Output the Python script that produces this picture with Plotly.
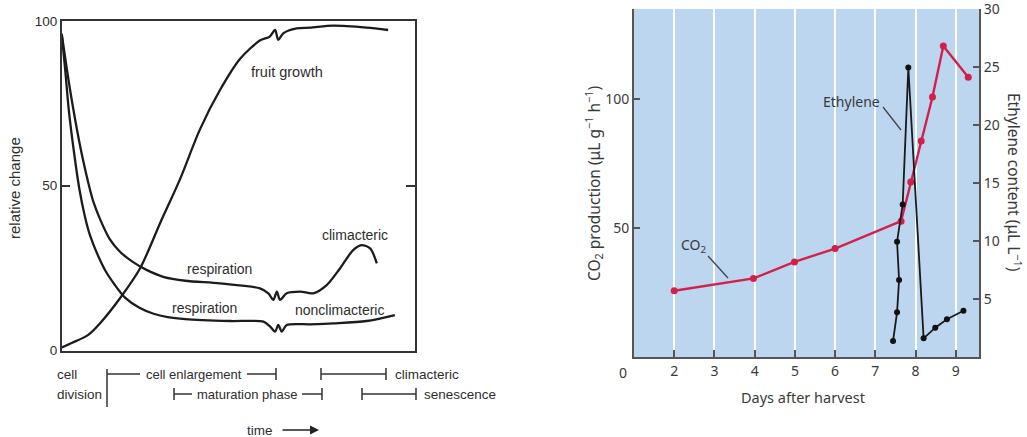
import plotly.graph_objects as go

W, H = 1027, 437

# ---------------- Left panel data (relative change vs time, 0-100 scale) ----------------
fruit_x = [0, 3, 7.5, 11, 16.5, 22.2, 28, 33.5, 39.1, 44.8, 50.5, 56.1, 58.9, 60.4, 61.3, 62.7, 66.5, 70.3, 76.9, 86.3, 92.4]
fruit_y = [1, 2.4, 4.8, 8.5, 15.9, 25, 39, 52, 67, 79, 88.5, 94, 95.2, 97.2, 94.2, 96.2, 97.7, 97.9, 98.5, 97.9, 97.2]

resp_clim_x = [0, 1.5, 3, 4.5, 6, 7.5, 9, 11, 13.5, 16.5, 20, 24, 29, 35, 44.8, 56.1, 58.5, 59.9, 60.9, 61.8, 63.7, 67.5, 71.2, 75, 78.8, 82.5, 84.9, 87.3, 89.2]
resp_clim_y = [96, 85, 75, 66, 58, 51, 45, 39.5, 34, 30, 27, 24.5, 22.3, 21.2, 20.4, 18.9, 17.4, 15.4, 17.9, 15.4, 17.4, 17.9, 17.4, 19.9, 25, 30.5, 32, 31, 26.5]

resp_non_x = [0, 1, 2, 3.5, 5, 6.5, 8, 10, 12.5, 15, 18, 22, 26, 30, 35, 47.6, 57.1, 59, 60.4, 61.3, 62.3, 63.7, 70.3, 76.9, 86.3, 94.3]
resp_non_y = [96, 85, 73, 60, 49, 41, 35, 29.5, 24, 20, 16, 13, 11.2, 10.2, 9.6, 9.0, 8.8, 7.3, 5.8, 7.8, 5.8, 7.8, 8.0, 8.3, 9.0, 10.8]

left_ticks = [0, 50, 100]

# ---------------- Right panel data ----------------
days_co2 = [2.0, 3.97, 4.99, 6.0, 7.64, 7.88, 8.14, 8.42, 8.69, 9.31]
co2 = [25.7, 30.5, 36.9, 42.1, 52.7, 67.9, 83.8, 100.9, 120.7, 108.6]

days_eth = [7.44, 7.54, 7.59, 7.54, 7.68, 7.82, 8.20, 8.49, 8.78, 9.19]
ethylene = [1.38, 3.85, 6.64, 9.94, 13.16, 24.97, 1.61, 2.53, 3.25, 3.99]

day_ticks = [2, 3, 4, 5, 6, 7, 8, 9]
co2_ticks = [50, 100, 135]
co2_ticktext = ["50", "100", ""]
eth_ticks = [5, 10, 15, 20, 25, 30]


def px(x):
    return x / W


def py(y):
    return 1 - y / H


LINE = "#1c1c1c"
TXT_L = "#2e2e2e"
FONT_L = "Liberation Sans"
FONT_R = "Noto Sans"
TXT_R = "#3a3a3a"
AX_R = "#555555"

fig = go.Figure()

for xs, ys in [(fruit_x, fruit_y), (resp_clim_x, resp_clim_y), (resp_non_x, resp_non_y)]:
    fig.add_trace(go.Scatter(x=xs, y=ys, mode="lines", xaxis="x", yaxis="y",
                             line=dict(color=LINE, width=2.3, shape="spline", smoothing=0.8),
                             showlegend=False, hoverinfo="skip"))

fig.add_trace(go.Scatter(x=days_co2, y=co2, mode="lines+markers", xaxis="x2", yaxis="y2",
                         line=dict(color="#d3204b", width=2.4),
                         marker=dict(color="#d3204b", size=7),
                         showlegend=False))
fig.add_trace(go.Scatter(x=days_eth, y=ethylene, mode="lines+markers", xaxis="x2", yaxis="y3",
                         line=dict(color="#1a1a1a", width=1.8),
                         marker=dict(color="#111111", size=6),
                         showlegend=False))

fig.update_layout(
    width=W, height=H,
    margin=dict(l=0, r=0, t=0, b=0, autoexpand=False),
    paper_bgcolor="white", plot_bgcolor="white",
    xaxis=dict(domain=[px(61.7), px(415)], range=[0, 100], anchor="y", automargin=False,
               showline=True, mirror=True, linecolor="#333", linewidth=1.5,
               ticks="", showticklabels=False, showgrid=False, zeroline=False),
    yaxis=dict(domain=[py(350.7), py(20.7)], range=[0, 100.02], anchor="x", automargin=False,
               showline=True, mirror="ticks", linecolor="#333", linewidth=1.5,
               tickvals=left_ticks, ticks="inside", ticklen=9, tickcolor="#333", tickwidth=1.5,
               tickfont=dict(family=FONT_L, size=13.5, color=TXT_L), ticklabeloverflow="allow",
               showgrid=False, zeroline=False),
    xaxis2=dict(domain=[px(634), px(979)], range=[1, 9.577], anchor="y2", automargin=False,
                showline=True, linecolor=AX_R, linewidth=2,
                tickvals=day_ticks, ticks="inside", ticklen=7, tickcolor=AX_R, tickwidth=2,
                tickfont=dict(family=FONT_R, size=14, color=TXT_R),
                showgrid=True, gridcolor="white", gridwidth=1.5, zeroline=False),
    yaxis2=dict(domain=[py(357), py(9)], range=[0, 135.05], anchor="x2", automargin=False,
                showline=True, linecolor=AX_R, linewidth=2,
                tickvals=co2_ticks, ticktext=co2_ticktext, ticks="inside", ticklen=6,
                tickcolor=AX_R, tickwidth=2, ticklabeloverflow="allow",
                tickfont=dict(family=FONT_R, size=14, color=TXT_R),
                showgrid=False, zeroline=False),
    yaxis3=dict(domain=[py(357), py(9)], range=[0, 30.01], anchor="x2", overlaying="y2", side="right",
                automargin=False,
                showline=True, linecolor=AX_R, linewidth=2,
                tickvals=eth_ticks, ticks="inside", ticklen=6, tickcolor=AX_R, tickwidth=2,
                ticklabeloverflow="allow",
                tickfont=dict(family=FONT_R, size=14, color=TXT_R),
                showgrid=False, zeroline=False),
)

shapes = []
# right panel background
shapes.append(dict(type="rect", xref="x2 domain", yref="y2 domain", x0=0, x1=1, y0=0, y1=1,
                   fillcolor="#bcd6ef", line=dict(width=0), layer="below"))


def seg(x0, y0, x1, y1, color="#333", width=1.5):
    shapes.append(dict(type="line", xref="paper", yref="paper",
                       x0=px(x0), y0=py(y0), x1=px(x1), y1=py(y1),
                       line=dict(color=color, width=width)))


# bottom phase brackets (left panel)
r1, r2 = 374, 394
seg(107, 369, 107, 407)
seg(107, r1, 140, r1)
seg(247, r1, 276, r1); seg(276, r1 - 6, 276, r1 + 6)
seg(174, r2 - 6, 174, r2 + 6); seg(174, r2, 192, r2)
seg(302, r2, 322, r2); seg(322, r2 - 6, 322, r2 + 6)
seg(321, r1 - 6, 321, r1 + 6); seg(321, r1, 386, r1); seg(386, r1 - 6, 386, r1 + 6)
seg(362, r2 - 6, 362, r2 + 6); seg(362, r2, 416, r2); seg(416, r2 - 6, 416, r2 + 6)

# leader lines right panel
seg(883, 107, 901, 130, color="#444", width=1.3)
seg(708, 256, 728, 278, color="#444", width=1.3)

fig.update_layout(shapes=shapes)

ann = []


def text(x, y, s, size=14, family=FONT_L, color=TXT_L, xanchor="center", angle=0):
    ann.append(dict(x=px(x), y=py(y), xref="paper", yref="paper", text=s, showarrow=False,
                    xanchor=xanchor, yanchor="middle", textangle=angle,
                    font=dict(family=family, size=size, color=color)))


# left panel labels
text(287, 72, "fruit growth", size=14.5)
text(219, 269, "respiration")
text(355, 235, "climacteric")
text(204, 308, "respiration")
text(339, 310, "nonclimacteric")
text(15, 188, "relative change", size=15, angle=-90)
text(55, r1, "cell", xanchor="left", size=13.5)
text(55, r2, "division", xanchor="left", size=13.5)
text(193.5, r1, "cell enlargement", size=13)
text(247, r2, "maturation phase", size=13)
text(393, r1, "climacteric", xanchor="left", size=13.5)
text(422, r2, "senescence", xanchor="left", size=13.5)
text(260, 430, "time", size=13.5)
ann.append(dict(x=px(319), y=py(430), ax=-38, ay=0, xref="paper", yref="paper",
                axref="pixel", ayref="pixel", text="", showarrow=True,
                arrowhead=2, arrowsize=1.2, arrowwidth=1.5, arrowcolor="#222"))

# right panel labels
text(851, 101, "Ethylene", size=14, family=FONT_R, color=TXT_R)
text(694, 245, "CO<sub>2</sub>", size=14, family=FONT_R, color=TXT_R)
text(623, 372, "0", size=14, family=FONT_R, color=TXT_R)
text(803, 397, "Days after harvest", size=14.5, family=FONT_R, color=TXT_R)
text(593, 184, "CO<sub>2</sub> production (μL g<sup>−1</sup> h<sup>−1</sup>)", size=15.5,
     family=FONT_R, color=TXT_R, angle=-90)
text(1014, 182, "Ethylene content (μL L<sup>−1</sup>)", size=15.5,
     family=FONT_R, color=TXT_R, angle=90)

fig.update_layout(annotations=ann)

fig.write_html("out.html", config={"displayModeBar": False},
               post_script="document.body.style.margin='0';document.body.style.overflow='hidden';")
